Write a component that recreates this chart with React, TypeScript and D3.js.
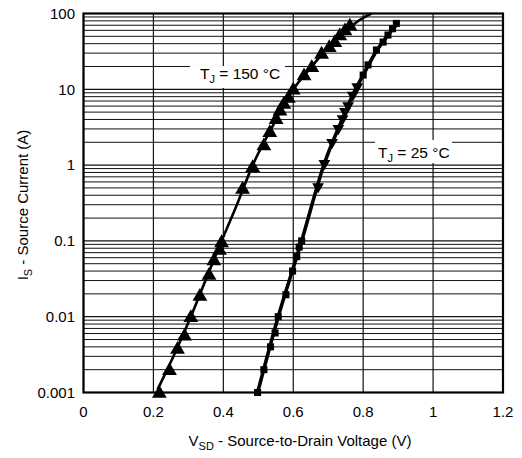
import React from "react";
import * as d3 from "d3";

// ---- data ----
const xTicks = [0, 0.2, 0.4, 0.6, 0.8, 1, 1.2];
const xTickLabels = ["0", "0.2", "0.4", "0.6", "0.8", "1", "1.2"];
const yTicks = [0.001, 0.01, 0.1, 1, 10, 100];
const yTickLabels = ["0.001", "0.01", "0.1", "1", "10", "100"];

// TJ = 150 °C curve (line knots) and triangle markers
const line150V = [0.212, 0.26, 0.307, 0.35, 0.395, 0.44, 0.484, 0.54, 0.6, 0.653, 0.70, 0.76, 0.79, 0.824];
const line150I = [0.0011, 0.0032, 0.01, 0.031, 0.1, 0.31, 1, 3.2, 10, 20, 36, 64, 82, 100];
const mark150V = [0.217, 0.246, 0.269, 0.289, 0.307, 0.333, 0.359, 0.373, 0.389, 0.395,
  0.455, 0.484, 0.516, 0.533, 0.551, 0.562, 0.573, 0.586, 0.6,
  0.631, 0.653, 0.681, 0.703, 0.719, 0.733, 0.748, 0.762];
const mark150I = [0.001, 0.002, 0.0038, 0.0057, 0.01, 0.019, 0.036, 0.056, 0.077, 0.097,
  0.49, 0.95, 1.84, 2.75, 4.1, 5.3, 6.5, 7.8, 10,
  15.4, 19.8, 29.8, 36.5, 42.4, 52, 60.5, 70];

// TJ = 25 °C curve (line knots), square markers and down-triangle markers
const line25V = [0.498, 0.557, 0.624, 0.689, 0.741, 0.77, 0.80, 0.838, 0.871, 0.897];
const line25I = [0.001, 0.01, 0.1, 1.05, 4.1, 8.4, 15.4, 32, 52, 72];
const sq25V = [0.498, 0.516, 0.535, 0.548, 0.557, 0.579, 0.598, 0.61, 0.617, 0.624,
  0.8, 0.814, 0.838, 0.857, 0.871, 0.884, 0.895];
const sq25I = [0.001, 0.002, 0.004, 0.0061, 0.01, 0.0195, 0.04, 0.062, 0.083, 0.1,
  15.4, 21, 33, 42, 52, 63, 74];
const tri25V = [0.671, 0.689, 0.711, 0.729, 0.741, 0.748, 0.757, 0.77, 0.783];
const tri25I = [0.52, 1.05, 2.0, 3.05, 4.1, 5.1, 6.1, 8.4, 10.8];

const W = 522;
const H = 458;
const M = { left: 83.5, right: 503, top: 13.5, bottom: 392.5 };
const FONT = "'Liberation Sans', Arial, Helvetica, sans-serif";

export default function App() {
  const x = d3.scaleLinear().domain([0, 1.2]).range([M.left, M.right]);
  const y = d3.scaleLog().domain([0.001, 100]).range([M.bottom, M.top]);

  const minor: number[] = [];
  for (let e = -3; e < 2; e++) {
    for (let k = 2; k <= 9; k++) minor.push(k * Math.pow(10, e));
  }

  const line = d3
    .line<[number, number]>()
    .x((d) => x(d[0]))
    .y((d) => y(d[1]))
    .curve(d3.curveMonotoneX);

  const p150 = line150V.map((v, i) => [v, line150I[i]] as [number, number]);
  const p25 = line25V.map((v, i) => [v, line25I[i]] as [number, number]);

  const triUp = d3.symbol().type(d3.symbolTriangle).size(95)()!;
  const triDown = d3.symbol().type(d3.symbolTriangle).size(60)()!;
  const square = d3.symbol().type(d3.symbolSquare).size(50)()!;

  return (
    <svg
      width={W}
      height={H}
      style={{ position: "absolute", left: 0, top: 0, background: "#fff" }}
      fontFamily={FONT}
    >
      <rect x={0} y={0} width={W} height={H} fill="#fff" />
      {/* horizontal grid */}
      {minor.map((v, i) => (
        <line key={"m" + i} x1={M.left} x2={M.right} y1={y(v)} y2={y(v)} stroke="#111" strokeWidth={1} />
      ))}
      {yTicks.map((v, i) => (
        <line key={"y" + i} x1={M.left} x2={M.right} y1={y(v)} y2={y(v)} stroke="#111" strokeWidth={1.2} />
      ))}
      {/* vertical grid */}
      {xTicks.map((v, i) => (
        <line key={"x" + i} x1={x(v)} x2={x(v)} y1={M.top} y2={M.bottom} stroke="#111" strokeWidth={1.2} />
      ))}

      {/* annotation boxes */}
      <rect x={190} y={66} width={95} height={22} fill="#fff" />
      <rect x={375} y={140} width={77} height={23} fill="#fff" />

      {/* curves */}
      <path d={line(p150) || ""} fill="none" stroke="#000" strokeWidth={2.6} />
      <path d={line(p25) || ""} fill="none" stroke="#000" strokeWidth={3.6} />

      {mark150V.map((v, i) => (
        <path key={"t" + i} d={triUp} transform={`translate(${x(v)},${y(mark150I[i]) + 1})`} fill="#000" />
      ))}
      {sq25V.map((v, i) => (
        <path key={"s" + i} d={square} transform={`translate(${x(v)},${y(sq25I[i])})`} fill="#000" />
      ))}
      {tri25V.map((v, i) => (
        <path key={"d" + i} d={triDown} transform={`translate(${x(v)},${y(tri25I[i])}) rotate(180)`} fill="#000" />
      ))}

      {/* frame */}
      <rect x={M.left} y={M.top} width={M.right - M.left} height={M.bottom - M.top} fill="none" stroke="#000" strokeWidth={2.2} />

      {/* tick labels */}
      {xTicks.map((v, i) => (
        <text key={"xl" + i} x={x(v)} y={417} textAnchor="middle" fontSize={15} fill="#000">
          {xTickLabels[i]}
        </text>
      ))}
      {yTicks.map((v, i) => (
        <text key={"yl" + i} x={75} y={y(v) + 5.3} textAnchor="end" fontSize={15} fill="#000">
          {yTickLabels[i]}
        </text>
      ))}

      {/* annotations */}
      <text x={200} y={79} fontSize={15.5} fill="#000">
        T<tspan fontSize={11} dy={4}>J</tspan>
        <tspan dy={-4}> = 150 °C</tspan>
      </text>
      <text x={378} y={158} fontSize={15.5} fill="#000">
        T<tspan fontSize={11} dy={4}>J</tspan>
        <tspan dy={-4}> = 25 °C</tspan>
      </text>

      {/* axis titles */}
      <text x={300} y={446} textAnchor="middle" fontSize={15} fill="#000">
        V<tspan fontSize={11} dy={4}>SD</tspan>
        <tspan dy={-4}> - Source-to-Drain Voltage (V)</tspan>
      </text>
      <text transform="translate(28,205) rotate(-90)" textAnchor="middle" fontSize={15} fill="#000">
        I<tspan fontSize={11} dy={4}>S</tspan>
        <tspan dy={-4}> - Source Current (A)</tspan>
      </text>
    </svg>
  );
}
